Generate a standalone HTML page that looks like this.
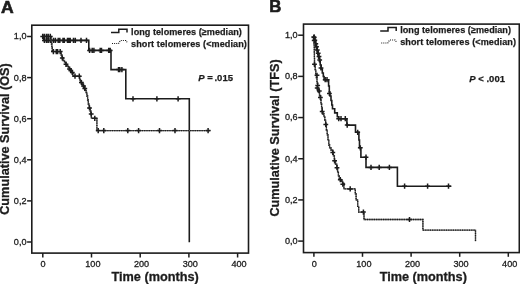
<!DOCTYPE html>
<html><head><meta charset="utf-8"><title>Kaplan-Meier survival curves</title>
<style>html,body{margin:0;padding:0;background:#fff;width:520px;height:284px;overflow:hidden}svg{display:block;filter:blur(0.3px)}</style>
</head><body>
<svg width="520" height="284" viewBox="0 0 520 284" font-family='"Liberation Sans", Arial, Helvetica, sans-serif'>
<rect width="520" height="284" fill="#fff"/>
<rect x="31.8" y="25.2" width="216.7" height="227.9" fill="none" stroke="#1c1c1c" stroke-width="1.6"/>
<path d="M27.1,242 H31.8" stroke="#1c1c1c" stroke-width="1.5"/>
<text x="26.5" y="244.9" text-anchor="end" font-size="9.1" fill="#1c1c1c" stroke="#1c1c1c" stroke-width="0.3">0,0</text>
<path d="M27.1,200.9 H31.8" stroke="#1c1c1c" stroke-width="1.5"/>
<text x="26.5" y="203.8" text-anchor="end" font-size="9.1" fill="#1c1c1c" stroke="#1c1c1c" stroke-width="0.3">0,2</text>
<path d="M27.1,159.8 H31.8" stroke="#1c1c1c" stroke-width="1.5"/>
<text x="26.5" y="162.7" text-anchor="end" font-size="9.1" fill="#1c1c1c" stroke="#1c1c1c" stroke-width="0.3">0,4</text>
<path d="M27.1,118.7 H31.8" stroke="#1c1c1c" stroke-width="1.5"/>
<text x="26.5" y="121.6" text-anchor="end" font-size="9.1" fill="#1c1c1c" stroke="#1c1c1c" stroke-width="0.3">0,6</text>
<path d="M27.1,77.6 H31.8" stroke="#1c1c1c" stroke-width="1.5"/>
<text x="26.5" y="80.5" text-anchor="end" font-size="9.1" fill="#1c1c1c" stroke="#1c1c1c" stroke-width="0.3">0,8</text>
<path d="M27.1,36.5 H31.8" stroke="#1c1c1c" stroke-width="1.5"/>
<text x="26.5" y="39.4" text-anchor="end" font-size="9.1" fill="#1c1c1c" stroke="#1c1c1c" stroke-width="0.3">1,0</text>
<path d="M42.8,253.1 V257.5" stroke="#1c1c1c" stroke-width="1.5"/>
<text x="43.1" y="267" text-anchor="middle" font-size="9.1" fill="#1c1c1c" stroke="#1c1c1c" stroke-width="0.3">0</text>
<path d="M91.5,253.1 V257.5" stroke="#1c1c1c" stroke-width="1.5"/>
<text x="92.9" y="267" text-anchor="middle" font-size="9.1" fill="#1c1c1c" stroke="#1c1c1c" stroke-width="0.3">100</text>
<path d="M140.2,253.1 V257.5" stroke="#1c1c1c" stroke-width="1.5"/>
<text x="141.6" y="267" text-anchor="middle" font-size="9.1" fill="#1c1c1c" stroke="#1c1c1c" stroke-width="0.3">200</text>
<path d="M188.9,253.1 V257.5" stroke="#1c1c1c" stroke-width="1.5"/>
<text x="190.3" y="267" text-anchor="middle" font-size="9.1" fill="#1c1c1c" stroke="#1c1c1c" stroke-width="0.3">300</text>
<path d="M237.6,253.1 V257.5" stroke="#1c1c1c" stroke-width="1.5"/>
<text x="239" y="267" text-anchor="middle" font-size="9.1" fill="#1c1c1c" stroke="#1c1c1c" stroke-width="0.3">400</text>
<rect x="303.5" y="24.1" width="215.8" height="228.5" fill="none" stroke="#1c1c1c" stroke-width="1.6"/>
<path d="M298.2,241.1 H303.5" stroke="#1c1c1c" stroke-width="1.5"/>
<text x="297.6" y="244" text-anchor="end" font-size="9.1" fill="#1c1c1c" stroke="#1c1c1c" stroke-width="0.3">0,0</text>
<path d="M298.2,199.92 H303.5" stroke="#1c1c1c" stroke-width="1.5"/>
<text x="297.6" y="202.82" text-anchor="end" font-size="9.1" fill="#1c1c1c" stroke="#1c1c1c" stroke-width="0.3">0,2</text>
<path d="M298.2,158.74 H303.5" stroke="#1c1c1c" stroke-width="1.5"/>
<text x="297.6" y="161.64" text-anchor="end" font-size="9.1" fill="#1c1c1c" stroke="#1c1c1c" stroke-width="0.3">0,4</text>
<path d="M298.2,117.56 H303.5" stroke="#1c1c1c" stroke-width="1.5"/>
<text x="297.6" y="120.46" text-anchor="end" font-size="9.1" fill="#1c1c1c" stroke="#1c1c1c" stroke-width="0.3">0,6</text>
<path d="M298.2,76.38 H303.5" stroke="#1c1c1c" stroke-width="1.5"/>
<text x="297.6" y="79.28" text-anchor="end" font-size="9.1" fill="#1c1c1c" stroke="#1c1c1c" stroke-width="0.3">0,8</text>
<path d="M298.2,35.2 H303.5" stroke="#1c1c1c" stroke-width="1.5"/>
<text x="297.6" y="38.1" text-anchor="end" font-size="9.1" fill="#1c1c1c" stroke="#1c1c1c" stroke-width="0.3">1,0</text>
<path d="M313.9,252.6 V256.8" stroke="#1c1c1c" stroke-width="1.5"/>
<text x="314.2" y="266.5" text-anchor="middle" font-size="9.1" fill="#1c1c1c" stroke="#1c1c1c" stroke-width="0.3">0</text>
<path d="M362.5,252.6 V256.8" stroke="#1c1c1c" stroke-width="1.5"/>
<text x="363.9" y="266.5" text-anchor="middle" font-size="9.1" fill="#1c1c1c" stroke="#1c1c1c" stroke-width="0.3">100</text>
<path d="M411.1,252.6 V256.8" stroke="#1c1c1c" stroke-width="1.5"/>
<text x="412.5" y="266.5" text-anchor="middle" font-size="9.1" fill="#1c1c1c" stroke="#1c1c1c" stroke-width="0.3">200</text>
<path d="M459.7,252.6 V256.8" stroke="#1c1c1c" stroke-width="1.5"/>
<text x="461.1" y="266.5" text-anchor="middle" font-size="9.1" fill="#1c1c1c" stroke="#1c1c1c" stroke-width="0.3">300</text>
<path d="M508.3,252.6 V256.8" stroke="#1c1c1c" stroke-width="1.5"/>
<text x="509.7" y="266.5" text-anchor="middle" font-size="9.1" fill="#1c1c1c" stroke="#1c1c1c" stroke-width="0.3">400</text>
<text transform="translate(0.9,13.2) scale(1.06,1)" font-size="16.6" font-weight="bold" fill="#1c1c1c" stroke="#1c1c1c" stroke-width="0.6">A</text>
<text transform="translate(269.3,12.3) scale(1.01,1)" font-size="16.6" font-weight="bold" fill="#1c1c1c" stroke="#1c1c1c" stroke-width="0.6">B</text>
<text x="155.1" y="281" text-anchor="middle" font-size="12.7" font-weight="bold" fill="#1c1c1c" stroke="#1c1c1c" stroke-width="0.3">Time (months)</text>
<text x="423.3" y="281" text-anchor="middle" font-size="12.7" font-weight="bold" fill="#1c1c1c" stroke="#1c1c1c" stroke-width="0.3">Time (months)</text>
<text transform="translate(9.4,139) rotate(-90)" text-anchor="middle" font-size="12.7" font-weight="bold" fill="#1c1c1c" stroke="#1c1c1c" stroke-width="0.3">Cumulative Survival (OS)</text>
<text transform="translate(279.2,138) rotate(-90)" text-anchor="middle" font-size="12.7" font-weight="bold" fill="#1c1c1c" stroke="#1c1c1c" stroke-width="0.3">Cumulative Survival (TFS)</text>
<path d="M111,32.6 H118.8 V29.2 H127 V32.5" fill="none" stroke="#1c1c1c" stroke-width="1.5"/>
<path d="M112,43.5 H118.6 L120.4,40.5 H126 L127.6,43.2" fill="none" stroke="#1c1c1c" stroke-width="1.2" stroke-dasharray="1 1.1"/>
<text x="131.1" y="35.4" font-size="9.1" font-weight="bold" letter-spacing="0.03" fill="#1c1c1c" stroke="#1c1c1c" stroke-width="0.25">long telomeres (≥median)</text>
<text x="131.1" y="46.9" font-size="9.1" font-weight="bold" letter-spacing="0.075" fill="#1c1c1c" stroke="#1c1c1c" stroke-width="0.25">short telomeres (&lt;median)</text>
<path d="M380.2,31 H388 V27.6 H396.2 V30.9" fill="none" stroke="#1c1c1c" stroke-width="1.5"/>
<path d="M381.2,43 H387.8 L389.6,40 H395.2 L396.8,42.7" fill="none" stroke="#1c1c1c" stroke-width="1.2" stroke-dasharray="1 1.1"/>
<text x="400.2" y="32.8" font-size="9.1" font-weight="bold" letter-spacing="0.03" fill="#1c1c1c" stroke="#1c1c1c" stroke-width="0.25">long telomeres (≥median)</text>
<text x="400.2" y="45.4" font-size="9.1" font-weight="bold" letter-spacing="0.075" fill="#1c1c1c" stroke="#1c1c1c" stroke-width="0.25">short telomeres (&lt;median)</text>
<text x="198.2" y="81.2" font-size="9.5" font-weight="bold" fill="#1c1c1c" stroke="#1c1c1c" stroke-width="0.25"><tspan font-style="italic">P</tspan> =<tspan dx="-0.9"> .015</tspan></text>
<text x="469.3" y="81.6" font-size="9.5" font-weight="bold" fill="#1c1c1c" stroke="#1c1c1c" stroke-width="0.25"><tspan font-style="italic">P</tspan> &lt; .001</text>
<path d="M42.8,36.4 H43.6 V40.4 H88.8 V50.4 H111 V69.6 H125.8 V98.8 H189.3 V242.2" fill="none" stroke="#1c1c1c" stroke-width="1.6"/>
<path d="M44.4,37.8 V43 M42,40.4 H46.8 M46.5,37.8 V43 M44.1,40.4 H48.9 M48.2,37.8 V43 M45.8,40.4 H50.6 M50.3,37.8 V43 M47.9,40.4 H52.7 M53.5,37.8 V43 M51.1,40.4 H55.9 M55.4,37.8 V43 M53,40.4 H57.8 M58.2,37.8 V43 M55.8,40.4 H60.6 M59.8,37.8 V43 M57.4,40.4 H62.2 M63,37.8 V43 M60.6,40.4 H65.4 M64.3,37.8 V43 M61.9,40.4 H66.7 M67.5,37.8 V43 M65.1,40.4 H69.9 M68.8,37.8 V43 M66.4,40.4 H71.2 M70.2,37.8 V43 M67.8,40.4 H72.6 M73.5,37.8 V43 M71.1,40.4 H75.9 M75.3,37.8 V43 M72.9,40.4 H77.7 M81,37.8 V43 M78.6,40.4 H83.4 M86.5,37.8 V43 M84.1,40.4 H88.9 M89.6,47.8 V53 M87.2,50.4 H92 M92.2,47.8 V53 M89.8,50.4 H94.6 M93.9,47.8 V53 M91.5,50.4 H96.3 M100.2,47.8 V53 M97.8,50.4 H102.6 M101.5,47.8 V53 M99.1,50.4 H103.9 M108.7,47.8 V53 M106.3,50.4 H111.1 M110.2,47.8 V53 M107.8,50.4 H112.6 M118.5,67 V72.2 M116.1,69.6 H120.9 M119.8,67 V72.2 M117.4,69.6 H122.2 M121.9,67 V72.2 M119.5,69.6 H124.3 M133,96.2 V101.4 M130.6,98.8 H135.4 M156.9,96.2 V101.4 M154.5,98.8 H159.3 M178.1,96.2 V101.4 M175.7,98.8 H180.5" fill="none" stroke="#1c1c1c" stroke-width="1.5"/>
<path d="M42.8,36.4 H51.1 V40 H51.5 V44 H51.9 V48 H52.3 V51.6 H61.2 V55 H62.2 V58 H63.2 V60.5 H64.5 V62.5 H65.8 V64.3 H67 V66 H68.3 V67.5 H69.5 V69 H70.8 V70.5 H72 V72.5 H73 V76.2 H79.7 V80 H80.5 V82.5 H81.8 V84 H82.8 V86 H84 V88.5 H85.2 V90.5 H86.2 V92.5 H86.9 V96 H87.6 V100 H88.3 V104 H89.2 V108 H90.2 V111 H90.8 V114 H91.4 V118.3 H96.9 V130.6 H210.6" fill="none" stroke="#5e5e5e" stroke-width="1.3"/>
<path d="M42.8,36.4 H51.1 V40 H51.5 V44 H51.9 V48 H52.3 V51.6 H61.2 V55 H62.2 V58 H63.2 V60.5 H64.5 V62.5 H65.8 V64.3 H67 V66 H68.3 V67.5 H69.5 V69 H70.8 V70.5 H72 V72.5 H73 V76.2 H79.7 V80 H80.5 V82.5 H81.8 V84 H82.8 V86 H84 V88.5 H85.2 V90.5 H86.2 V92.5 H86.9 V96 H87.6 V100 H88.3 V104 H89.2 V108 H90.2 V111 H90.8 V114 H91.4 V118.3 H96.9 V130.6 H210.6" fill="none" stroke="#1c1c1c" stroke-width="1.3" stroke-dasharray="1.2 1.1"/>
<path d="M42.7,33.8 V39 M40.3,36.4 H45.1 M44.4,33.8 V39 M42,36.4 H46.8 M46.5,33.8 V39 M44.1,36.4 H48.9 M48.2,33.8 V39 M45.8,36.4 H50.6 M50.3,33.8 V39 M47.9,36.4 H52.7 M53.4,49 V54.2 M51,51.6 H55.8 M56.3,49 V54.2 M53.9,51.6 H58.7 M57.6,49 V54.2 M55.2,51.6 H60 M60.2,49 V54.2 M57.8,51.6 H62.6 M62.3,55.4 V60.6 M59.9,58 H64.7 M66,61.7 V66.9 M63.6,64.3 H68.4 M69.5,66.4 V71.6 M67.1,69 H71.9 M70.8,67.9 V73.1 M68.4,70.5 H73.2 M72.3,69.9 V75.1 M69.9,72.5 H74.7 M75,73.6 V78.8 M72.6,76.2 H77.4 M79.3,73.6 V78.8 M76.9,76.2 H81.7 M81.4,79.9 V85.1 M79,82.5 H83.8 M83.5,83.4 V88.6 M81.1,86 H85.9 M84.8,85.9 V91.1 M82.4,88.5 H87.2 M89.5,105.4 V110.6 M87.1,108 H91.9 M91.2,111.4 V116.6 M88.8,114 H93.6 M94.8,115.7 V120.9 M92.4,118.3 H97.2 M98.2,128 V133.2 M95.8,130.6 H100.6 M103.8,128 V133.2 M101.4,130.6 H106.2 M127.8,128 V133.2 M125.4,130.6 H130.2 M138.6,128 V133.2 M136.2,130.6 H141 M159.5,128 V133.2 M157.1,130.6 H161.9 M175,128 V133.2 M172.6,130.6 H177.4 M208.1,128 V133.2 M205.7,130.6 H210.5" fill="none" stroke="#1c1c1c" stroke-width="1.5"/>
<path d="M314,35.5 H314.3 V38 H314.9 V41 H315.6 V44 H316.3 V47.5 H317 V51 H317.8 V54.5 H318.6 V58 H319.4 V61.5 H320.2 V65 H321.2 V69 H322.3 V73 H323.3 V76.5 H324.1 V79.7 H328.6 V86 H329.3 V92 H330 V96 H331 V100.5 H331.8 V105 H332.5 V108.8 H334.7 V112.9 H337.3 V116.7 H338.6 V118.7 H346.9 V125.1 H355.5 V132.3 H358.9 V140 H359.5 V147.8 H360.9 V157.2 H366 V167.4 H397.4 V186.2 H451.4" fill="none" stroke="#1c1c1c" stroke-width="1.6"/>
<path d="M314.2,34.9 V40.1 M311.8,37.5 H316.6 M314.8,37.6 V42.8 M312.4,40.2 H317.2 M315.8,41.2 V46.4 M313.4,43.8 H318.2 M316.5,44.2 V49.4 M314.1,46.8 H318.9 M317.3,47.4 V52.6 M314.9,50 H319.7 M318.2,50.6 V55.8 M315.8,53.2 H320.6 M319,53.9 V59.1 M316.6,56.5 H321.4 M319.7,57.4 V62.6 M317.3,60 H322.1 M321,65.4 V70.6 M318.6,68 H323.4 M325.2,77.1 V82.3 M322.8,79.7 H327.6 M327,77.1 V82.3 M324.6,79.7 H329.4 M329.4,90.9 V96.1 M327,93.5 H331.8 M338.7,116.1 V121.3 M336.3,118.7 H341.1 M341,116.1 V121.3 M338.6,118.7 H343.4 M345.3,116.1 V121.3 M342.9,118.7 H347.7 M347.2,122.5 V127.7 M344.8,125.1 H349.6 M357.7,129.7 V134.9 M355.3,132.3 H360.1 M360.3,145.2 V150.4 M357.9,147.8 H362.7 M366,154.6 V159.8 M363.6,157.2 H368.4 M371,164.8 V170 M368.6,167.4 H373.4 M379.2,164.8 V170 M376.8,167.4 H381.6 M389.4,164.8 V170 M387,167.4 H391.8 M404.6,183.6 V188.8 M402.2,186.2 H407 M427.6,183.6 V188.8 M425.2,186.2 H430 M448.5,183.6 V188.8 M446.1,186.2 H450.9" fill="none" stroke="#1c1c1c" stroke-width="1.5"/>
<path d="M314,35.5 H314.1 V40 H314.2 V46 H314.3 V52 H314.4 V58 H314.5 V65 H315.2 V70 H315.8 V74.7 H316.4 V78 H317 V83 H317.5 V88 H318.3 V92.4 H319.5 V96 H320.6 V100 H321 V104 H321.6 V108 H322.2 V111.6 H323 V114 H324 V116.7 H324.8 V120 H325.6 V124.5 H326.4 V130 H327.2 V135 H328 V140 H328.8 V145 H329.6 V148 H331 V150 H332.6 V152.4 H333.4 V156 H334.4 V160.8 H335.5 V164 H336.8 V167.7 H337.6 V172 H338.4 V176 H339.2 V179 H340.7 V181 H342.5 V183.5 H343.9 V188.9 H355.3 V194 H356.1 V200 H357.7 V206.4 H358.7 V212.1 H364 V219.5 H422.9 V230.2 H475.5 V241.2" fill="none" stroke="#5e5e5e" stroke-width="1.3"/>
<path d="M314,35.5 H314.1 V40 H314.2 V46 H314.3 V52 H314.4 V58 H314.5 V65 H315.2 V70 H315.8 V74.7 H316.4 V78 H317 V83 H317.5 V88 H318.3 V92.4 H319.5 V96 H320.6 V100 H321 V104 H321.6 V108 H322.2 V111.6 H323 V114 H324 V116.7 H324.8 V120 H325.6 V124.5 H326.4 V130 H327.2 V135 H328 V140 H328.8 V145 H329.6 V148 H331 V150 H332.6 V152.4 H333.4 V156 H334.4 V160.8 H335.5 V164 H336.8 V167.7 H337.6 V172 H338.4 V176 H339.2 V179 H340.7 V181 H342.5 V183.5 H343.9 V188.9 H355.3 V194 H356.1 V200 H357.7 V206.4 H358.7 V212.1 H364 V219.5 H422.9 V230.2 H475.5 V241.2" fill="none" stroke="#1c1c1c" stroke-width="1.3" stroke-dasharray="1.2 1.1"/>
<path d="M313.8,34.4 V39.6 M311.4,37 H316.2 M314.2,37.9 V43.1 M311.8,40.5 H316.6 M314.5,61.7 V66.9 M312.1,64.3 H316.9 M317,72.7 V77.9 M314.6,75.3 H319.4 M317.7,82.8 V88 M315.3,85.4 H320.1 M317.2,85.4 V90.6 M314.8,88 H319.6 M319.3,88.4 V93.6 M316.9,91 H321.7 M320.4,94.8 V100 M318,97.4 H322.8 M322.2,109 V114.2 M319.8,111.6 H324.6 M325.8,121.9 V127.1 M323.4,124.5 H328.2 M332.8,149.8 V155 M330.4,152.4 H335.2 M334.6,158.2 V163.4 M332.2,160.8 H337 M337,165.1 V170.3 M334.6,167.7 H339.4 M340.3,177.1 V182.3 M337.9,179.7 H342.7 M342.8,181.6 V186.8 M340.4,184.2 H345.2 M350.2,186.3 V191.5 M347.8,188.9 H352.6 M363.4,209.5 V214.7 M361,212.1 H365.8 M409.5,216.9 V222.1 M407.1,219.5 H411.9" fill="none" stroke="#1c1c1c" stroke-width="1.5"/>
</svg>
</body></html>
